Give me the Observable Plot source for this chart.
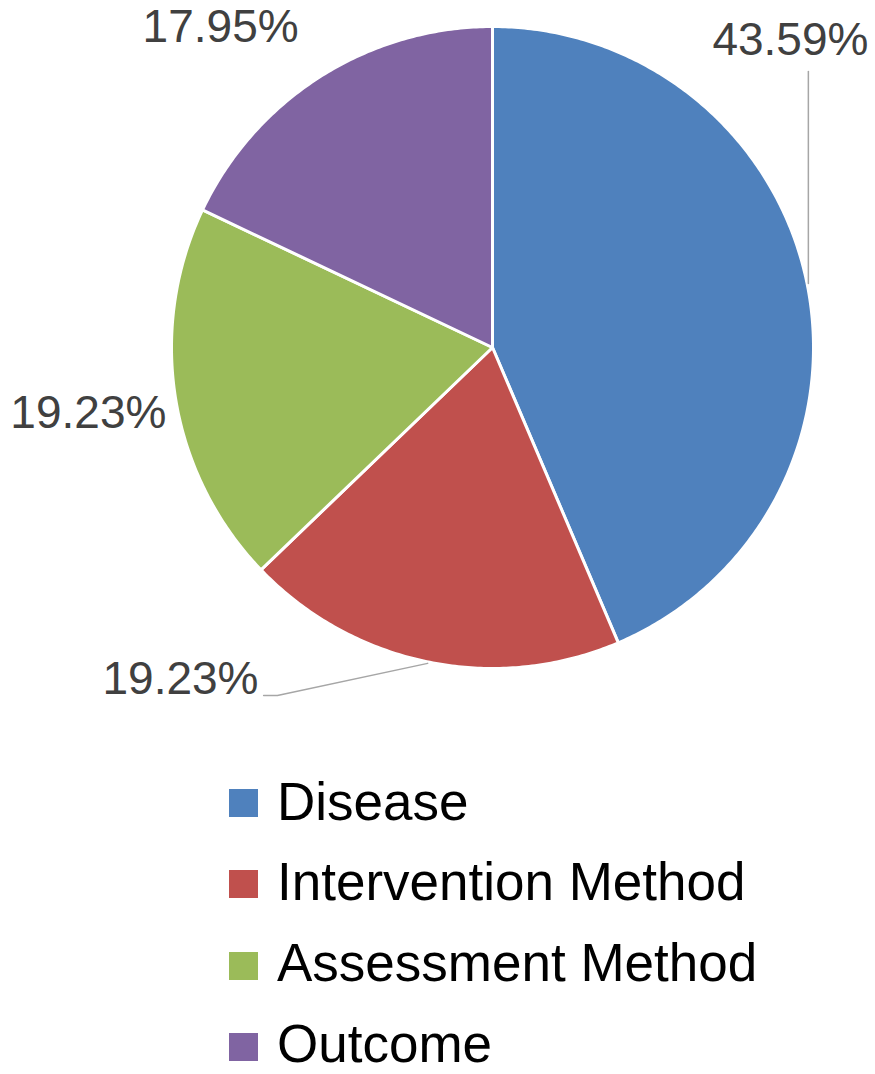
<!DOCTYPE html>
<html><head><meta charset="utf-8">
<script src="https://cdn.jsdelivr.net/npm/d3@7"></script>
<script src="https://cdn.jsdelivr.net/npm/@observablehq/plot@0.6"></script>
<style>
body{margin:0;background:#fff;}
#wrap{position:relative;width:875px;height:1074px;font-family:"Liberation Sans",Arial,sans-serif;overflow:hidden;}
#wrap svg{position:absolute;left:0;top:0;}
.sw{position:absolute;left:229px;width:29px;height:28px;}
.lt{position:absolute;left:277px;font-size:53px;line-height:48px;color:#000;white-space:nowrap;}
</style></head><body><div id="wrap"></div><script>
// ---- data ----
const categories = ["Disease", "Intervention Method", "Assessment Method", "Outcome"];
const percents = [43.59, 19.23, 19.23, 17.95];
const percentLabels = ["43.59%", "19.23%", "19.23%", "17.95%"];
const colors = ["#4F81BD", "#C0504D", "#9BBB59", "#8064A2"];

// ---- layout (unit-circle coordinates, not data) ----
const labelAt = [[0.928, 0.958], [-0.972, -1.034], [-1.259, -0.206], [-0.847, 0.997]];
const leaders = [
  {cat: "Disease", pts: [[0.984, 0.860], [0.984, 0.199]]},
  {cat: "Intervention Method", pts: [[-0.713, -1.084], [-0.670, -1.084], [-0.202, -0.984]]}
];

const total = d3.sum(percents);
let acc = 0;
const slicePts = [];
categories.forEach((c, i) => {
  const a0 = acc / total * 2 * Math.PI;
  acc += percents[i];
  const a1 = acc / total * 2 * Math.PI;
  slicePts.push({cat: c, x: 0, y: 0});
  const n = Math.max(8, Math.ceil((a1 - a0) / 0.01));
  for (let k = 0; k <= n; k++) {
    const a = a0 + (a1 - a0) * k / n;
    slicePts.push({cat: c, x: Math.sin(a), y: Math.cos(a)});
  }
});
const labels = categories.map((c, i) => ({cat: c, text: percentLabels[i], x: labelAt[i][0], y: labelAt[i][1]}));
const leaderPts = leaders.flatMap(l => l.pts.map(p => ({cat: l.cat, x: p[0], y: p[1]})));

const chart = Plot.plot({
  width: 875, height: 730,
  marginLeft: 171, marginRight: 62, marginTop: 26, marginBottom: 62,
  x: {domain: [-1, 1], axis: null},
  y: {domain: [-1, 1], axis: null},
  color: {domain: categories, range: colors},
  style: {fontFamily: "'Liberation Sans', Arial, sans-serif", background: "white", overflow: "visible"},
  marks: [
    Plot.line(slicePts, {x: "x", y: "y", z: "cat", fill: "cat", stroke: "white", strokeWidth: 3, strokeLinejoin: "round", curve: "linear-closed"}),
    Plot.line(leaderPts, {x: "x", y: "y", z: "cat", stroke: "#a6a6a6", strokeWidth: 1.5}),
    Plot.text(labels, {x: "x", y: "y", text: "text", fontSize: 46, fill: "#404040", textAnchor: "middle", lineAnchor: "middle"})
  ]
});
const wrap = document.getElementById("wrap");
wrap.appendChild(chart);

categories.forEach((c, i) => {
  const sw = document.createElement("div");
  sw.className = "sw";
  sw.style.top = (789 + i * 81.3) + "px";
  sw.style.background = colors[i];
  wrap.appendChild(sw);
  const t = document.createElement("div");
  t.className = "lt";
  t.style.top = (777.6 + i * 80.7) + "px";
  t.textContent = c;
  wrap.appendChild(t);
});
</script></body></html>
